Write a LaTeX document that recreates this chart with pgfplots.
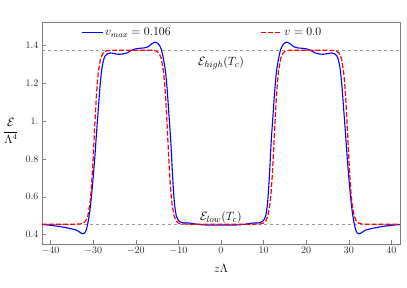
\documentclass[border=0pt]{standalone}
\usepackage{pgfplots}
\pgfplotsset{compat=1.18}
\begin{document}
\begin{tikzpicture}
\begin{axis}[
  scale only axis,
  width=358pt, height=222pt,
  xmin=-42, xmax=42, ymin=0.35, ymax=1.525,
  axis line style={draw=black!50, line width=0.6pt},
  xtick={-40,-30,-20,-10,0,10,20,30,40},
  ytick={0.4,0.6,0.8,1.0,1.2,1.4},
  yticklabels={$0.4$,$0.6$,$0.8$,$1.$,$1.2$,$1.4$},
  tick align=inside,
  xtick pos=bottom, ytick pos=left,
  major tick length=4pt,
  tick style={draw=black!50, line width=0.5pt},
  tick label style={font=\normalsize, text=black!85},
  xlabel={$z\Lambda$},
  xlabel style={font=\fontsize{13}{15}\selectfont, yshift=-3pt},
  ylabel={$\displaystyle\frac{\mathcal{E}}{\Lambda^4}$},
  ylabel style={rotate=-90, font=\fontsize{12}{14}\selectfont, at={(axis description cs:-0.087,0.51)}, anchor=center},
  legend style={draw=none, fill=none, at={(axis cs:-33.5,1.516)}, anchor=north west, font=\fontsize{11.5}{13}\selectfont, legend columns=2},
  legend cell align=left,
  /tikz/every even column/.append style={column sep=88pt},
  legend image code/.code={\draw[#1, line width=1.2pt] (0cm,0cm) -- (0.72cm,0cm);},
  clip=true,
]
\addplot[black!40, dashed, line width=0.4pt, forget plot] coordinates {(-42,1.375) (42,1.375)};
\addplot[black!40, dashed, line width=0.4pt, forget plot] coordinates {(-42,0.455) (42,0.455)};

\addplot[blue, line width=1.1pt, smooth, tension=0.3] coordinates {
(-42,0.453) (-40,0.449) (-38,0.443) (-36,0.435) (-35,0.430) (-34,0.424) (-33.3,0.415) (-32.8,0.407) (-32.4,0.404) (-32.0,0.408) (-31.6,0.425) (-31.2,0.465) (-30.8,0.52) (-30.4,0.60) (-30.0,0.70) (-29.6,0.81) (-29.2,0.94) (-28.8,1.06) (-28.4,1.18) (-28.0,1.27) (-27.6,1.32) (-27.2,1.345) (-26.6,1.357) (-26.0,1.361) (-25.0,1.358) (-24.0,1.354) (-23.0,1.356) (-22.0,1.362) (-21.0,1.375) (-20.0,1.383) (-19.0,1.386) (-18.0,1.388) (-17.0,1.395) (-16.2,1.41) (-15.5,1.418) (-15.0,1.415) (-14.5,1.403) (-14.0,1.38) (-13.5,1.33) (-13.0,1.26) (-12.6,1.16) (-12.2,1.03) (-11.8,0.90) (-11.5,0.77) (-11.2,0.65) (-10.9,0.56) (-10.5,0.50) (-10.0,0.475) (-9.5,0.466) (-8.5,0.461) (-7.5,0.461) (-6.5,0.458) (-5.5,0.454) (-4,0.451) (-2,0.450) (0,0.450)
(2,0.450) (4,0.451) (5.5,0.454) (6.5,0.458) (7.5,0.461) (8.5,0.461) (9.5,0.466) (10.0,0.475) (10.5,0.50) (10.9,0.56) (11.2,0.65) (11.5,0.77) (11.8,0.90) (12.2,1.03) (12.6,1.16) (13.0,1.26) (13.5,1.33) (14.0,1.38) (14.5,1.403) (15.0,1.415) (15.5,1.418) (16.2,1.41) (17.0,1.395) (18.0,1.388) (19.0,1.386) (20.0,1.383) (21.0,1.375) (22.0,1.362) (23.0,1.356) (24.0,1.354) (25.0,1.358) (26.0,1.361) (26.6,1.357) (27.2,1.345) (27.6,1.32) (28.0,1.27) (28.4,1.18) (28.8,1.06) (29.2,0.94) (29.6,0.81) (30.0,0.70) (30.4,0.60) (30.8,0.52) (31.2,0.465) (31.6,0.425) (32.0,0.408) (32.4,0.404) (32.8,0.407) (33.3,0.415) (34,0.424) (35,0.430) (36,0.435) (38,0.443) (40,0.449) (42,0.453)
};
\addlegendentry{$v_{max}=0.106$}

\addplot[red, line width=1.2pt, dash pattern=on 5pt off 2pt] coordinates {
(-42,0.455) (-34,0.455) (-33.25,0.456) (-32.75,0.457) (-32.25,0.461) (-31.75,0.472) (-31.25,0.498) (-30.75,0.564) (-30.5,0.622) (-30.25,0.702) (-30.0,0.803) (-29.75,0.915) (-29.5,1.027) (-29.25,1.128) (-29.0,1.208) (-28.75,1.265) (-28.25,1.332) (-27.75,1.358) (-27.25,1.369) (-26.75,1.373) (-26.25,1.374) (-25,1.375) (-16,1.375) (-15.5,1.373) (-15,1.369) (-14.5,1.358) (-14,1.332) (-13.5,1.265) (-13.25,1.208) (-13.0,1.128) (-12.75,1.027) (-12.5,0.915) (-12.25,0.803) (-12.0,0.702) (-11.75,0.622) (-11.5,0.564) (-11.0,0.498) (-10.5,0.472) (-10.0,0.461) (-9.5,0.457) (-9.0,0.456) (-8,0.455) (0,0.455)
(8,0.455) (9.0,0.456) (9.5,0.457) (10.0,0.461) (10.5,0.472) (11.0,0.498) (11.5,0.564) (11.75,0.622) (12.0,0.702) (12.25,0.803) (12.5,0.915) (12.75,1.027) (13.0,1.128) (13.25,1.208) (13.5,1.265) (14,1.332) (14.5,1.358) (15,1.369) (15.5,1.373) (16,1.375) (25,1.375) (26.25,1.374) (26.75,1.373) (27.25,1.369) (27.75,1.358) (28.25,1.332) (28.75,1.265) (29.0,1.208) (29.25,1.128) (29.5,1.027) (29.75,0.915) (30.0,0.803) (30.25,0.702) (30.5,0.622) (30.75,0.564) (31.25,0.498) (31.75,0.472) (32.25,0.461) (32.75,0.457) (33.25,0.456) (34,0.455) (42,0.455)
};
\addlegendentry{$v=0.0$}

\node[font=\fontsize{13}{15}\selectfont] at (axis cs:0,1.308) {$\mathcal{E}_{high}(T_c)$};
\node[font=\fontsize{13}{15}\selectfont] at (axis cs:0,0.49) {$\mathcal{E}_{low}(T_c)$};
\end{axis}
\pgfresetboundingbox
\path[use as bounding box] (-42pt,-44pt) rectangle (365pt,244pt);
\end{tikzpicture}
\end{document}
